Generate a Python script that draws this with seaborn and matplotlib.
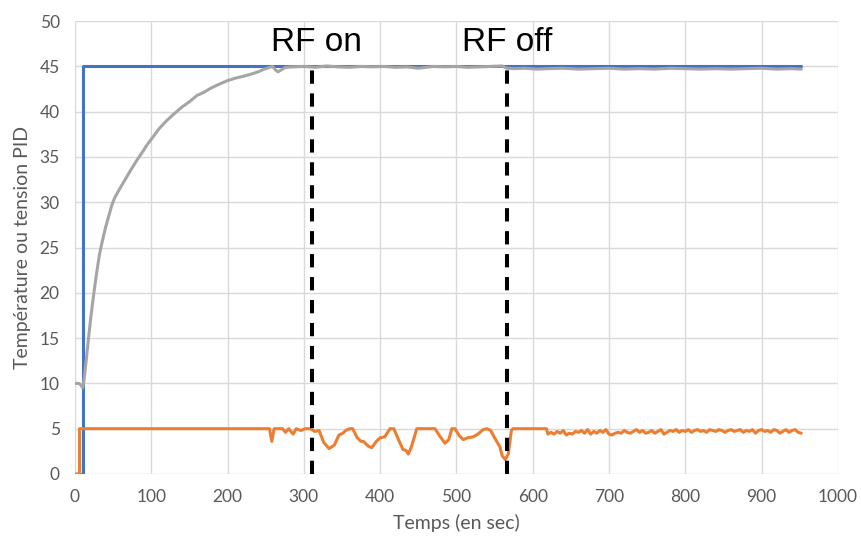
import matplotlib
matplotlib.use("Agg")
import matplotlib.pyplot as plt
import seaborn as sns

# Consigne (setpoint)
consigne_t = [0, 10, 10, 952]
consigne_v = [0, 0, 45, 45]

# Tension PID
pid_t = [0, 6, 6, 255, 258, 261, 272, 276, 280, 286, 290, 296, 302, 309, 314, 320,
         326, 333, 340, 346, 351, 355, 360, 364, 370, 375, 378, 384, 389, 395, 400,
         406, 413, 418, 424, 430, 434, 437, 441, 448, 472, 478, 485, 490, 494, 498,
         504, 509, 515, 522, 528, 535, 540, 545, 550, 557, 560, 564, 568, 572, 574,
         618, 620, 624, 628, 632, 636, 640, 644, 648, 652, 656, 660, 664, 668, 672,
         676, 680, 684, 688, 692, 696, 700, 704, 708, 712, 716, 720, 724, 728, 732,
         736, 740, 744, 748, 752, 756, 760, 764, 768, 772, 776, 780, 784, 788, 792,
         796, 800, 804, 808, 812, 816, 820, 824, 828, 832, 836, 840, 844, 848, 852,
         856, 860, 864, 868, 872, 876, 880, 884, 888, 892, 896, 900, 904, 908, 912,
         916, 920, 924, 928, 932, 936, 940, 944, 948, 952]
pid_v = [0, 0, 5, 5, 3.6, 5, 5, 4.6, 5, 4.4, 5, 4.8, 5, 5, 4.7, 4.8,
         3.5, 2.8, 3.2, 4.3, 4.5, 4.8, 5, 5, 4.0, 3.6, 3.6, 3.1, 2.9, 3.6, 4.0,
         4.1, 5, 5, 3.8, 2.7, 2.6, 2.2, 3.0, 5, 5, 4.2, 3.4, 3.8, 5, 5,
         4.2, 3.8, 4.0, 4.1, 4.4, 4.9, 5, 4.8, 4.0, 3.0, 2.0, 1.6, 2.2, 4.8, 5,
         5, 4.4, 4.6, 4.4, 4.7, 4.5, 4.8, 4.3, 4.5, 4.4, 4.7, 4.6, 4.8, 4.5, 4.9,
         4.4, 4.7, 4.5, 4.8, 4.6, 4.9, 4.4, 4.3, 4.5, 4.6, 4.5, 4.8, 4.6, 4.5, 4.7,
         4.9, 4.6, 4.8, 4.5, 4.6, 4.8, 4.5, 4.7, 4.9, 4.4, 4.6, 4.8, 4.7, 4.9, 4.6,
         4.8, 4.7, 4.9, 4.6, 4.8, 4.9, 4.7, 4.8, 4.6, 4.9, 4.8, 4.7, 4.9, 4.8, 4.6,
         4.8, 4.9, 4.7, 4.8, 4.9, 4.6, 4.8, 4.7, 4.9, 4.5, 4.8, 4.9, 4.7, 4.8, 4.6,
         4.9, 4.8, 4.5, 4.7, 4.9, 4.6, 4.8, 4.9, 4.6, 4.5]

# Temperature mesuree
temp_t = [0, 5, 8, 10, 12, 15, 18, 21, 24, 28, 32, 35, 40, 44, 48, 52, 58, 65, 72,
          80, 88, 95, 103, 110, 120, 129, 140, 150, 160, 168, 178, 188, 199, 210,
          220, 229, 240, 248, 255, 259, 263, 266, 270, 276, 285, 300, 315, 330,
          345, 360, 375, 390, 405, 420, 435, 450, 460, 470, 485, 500, 515, 530,
          545, 560, 566, 575, 590, 605, 620, 640, 660, 680, 700, 720, 740, 760,
          780, 800, 820, 840, 860, 880, 900, 920, 940, 952]
temp_v = [10, 10, 9.8, 9.5, 10.5, 12.8, 15.2, 17.5, 19.5, 22.0, 24.2, 25.4, 27.2,
          28.4, 29.6, 30.5, 31.4, 32.4, 33.4, 34.5, 35.5, 36.4, 37.3, 38.1, 39.0,
          39.7, 40.5, 41.1, 41.8, 42.1, 42.6, 43.0, 43.4, 43.7, 43.9, 44.1, 44.4,
          44.7, 44.9, 45.0, 44.6, 44.4, 44.6, 44.9, 44.95, 45.0, 44.9, 45.05,
          44.95, 44.9, 45.0, 44.95, 45.0, 44.9, 44.95, 44.8, 44.9, 45.0, 44.95,
          45.0, 44.9, 44.95, 45.0, 45.05, 44.8, 44.75, 44.8, 44.7, 44.75, 44.8,
          44.7, 44.75, 44.8, 44.7, 44.75, 44.7, 44.8, 44.75, 44.7, 44.75, 44.7,
          44.75, 44.8, 44.7, 44.75, 44.7]

# RF events
events_t = [311, 566]
events_label = ["RF on", "RF off"]

sns.set_style("white")
fig, ax = plt.subplots(figsize=(8.62, 5.42), dpi=100)
fig.subplots_adjust(left=0.087, right=0.972, top=0.961, bottom=0.1255)

sns.lineplot(x=consigne_t, y=consigne_v, estimator=None, sort=False,
             color="#4472C4", linewidth=2.2, ax=ax)
sns.lineplot(x=pid_t, y=pid_v, estimator=None, sort=False,
             color="#ED7D31", linewidth=2.2, ax=ax)
sns.lineplot(x=temp_t, y=temp_v, estimator=None, sort=False,
             color="#A5A5A5", linewidth=2.2, ax=ax)

for t, lab in zip(events_t, events_label):
    ax.plot([t, t], [0, 45], color="black", linewidth=2.9,
            dashes=(3.3, 2.4), solid_capstyle="butt", dash_capstyle="butt")
    ax.text(t + 6 if lab == "RF on" else t, 47.6, lab, ha="center", va="center",
            fontsize=24, family="Liberation Sans", color="black")

ax.set_xlim(0, 1000)
ax.set_ylim(0, 50)
ax.set_xticks(range(0, 1001, 100))
ax.set_yticks(range(0, 51, 5))
ax.grid(True, color="#D9D9D9", linewidth=1)
ax.set_axisbelow(True)
for s in ax.spines.values():
    s.set_visible(False)
ax.tick_params(axis="both", length=5, color="#D9D9D9", width=1,
               labelsize=12.5, labelcolor="#595959", pad=6)
for lbl in ax.get_xticklabels() + ax.get_yticklabels():
    lbl.set_family("Lato")

ax.set_xlabel("Temps (en sec)", fontsize=14, color="#595959", family="Lato", labelpad=6)
ax.set_ylabel("Température ou tension PID", fontsize=14, color="#595959",
              family="Lato", labelpad=6)

fig.savefig("out.png", dpi=100)
